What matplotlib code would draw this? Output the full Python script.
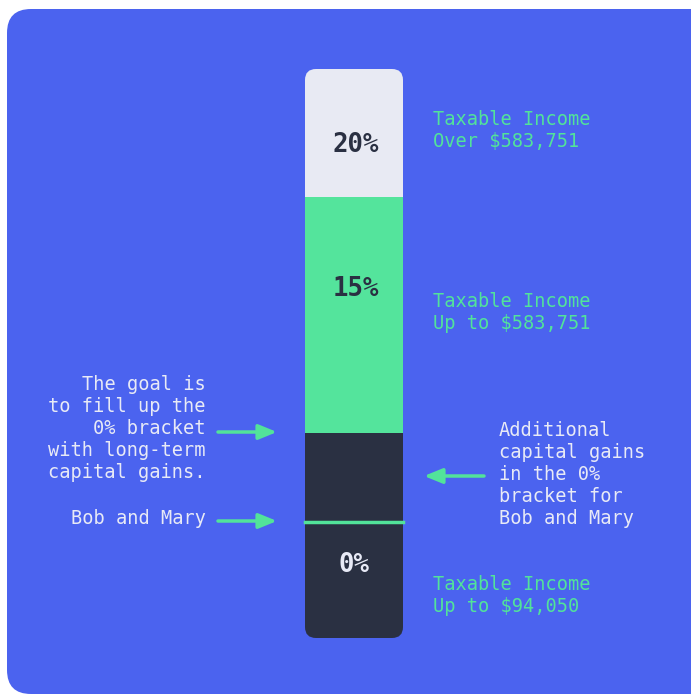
import matplotlib.pyplot as plt
from matplotlib.patches import FancyBboxPatch

# bracket segments, bottom to top (heights in drawing units)
rates = ["0%", "15%", "20%"]
seg_heights = [205, 236, 128]
seg_colors = ["#2A3042", "#54E49C", "#E8EAF3"]
bob_mary_level = 116  # where Bob and Mary sit inside the 0% bracket

bracket_labels = ["Taxable Income\nUp to $94,050",
                  "Taxable Income\nUp to $583,751",
                  "Taxable Income\nOver $583,751"]

BLUE = "#4B63EF"
GREEN = "#52E39A"
WHITE = "#E8EAF6"
FONT = "DejaVu Sans Mono"

fig = plt.figure(figsize=(6.91, 6.94), dpi=100)
fig.patch.set_facecolor("white")
ax = fig.add_axes([0, 0, 1, 1])
ax.set_xlim(0, 691)
ax.set_ylim(0, 694)
ax.axis("off")

# blue panel
panel = FancyBboxPatch((7, 0), 710, 685, boxstyle="round,pad=0,rounding_size=24",
                       fc=BLUE, ec="none", zorder=0)
ax.add_patch(panel)

# stacked bar
x0, w, base = 354, 98, 56
bottoms = [base + sum(seg_heights[:i]) for i in range(len(seg_heights))]
bars = ax.bar([x0] * 3, seg_heights, bottom=bottoms, width=w,
              color=seg_colors, edgecolor="none", zorder=2)
clip = FancyBboxPatch((x0 - w / 2, base), w, sum(seg_heights),
                      boxstyle="round,pad=0,rounding_size=11",
                      fc="none", ec="none", transform=ax.transData)
ax.add_patch(clip)
for b in bars:
    b.set_clip_path(clip)

# Bob and Mary line
ax.plot([x0 - w / 2, x0 + w / 2], [base + bob_mary_level] * 2, color=GREEN, lw=2.5, zorder=3)

# rate labels
pct = dict(ha="center", va="center", fontsize=18.5, family=FONT, fontweight="bold", zorder=4)
ax.text(x0 + 2, 694 - 145, rates[2], color="#2A3042", **pct)
ax.text(x0 + 2, 694 - 289, rates[1], color="#2A3042", **pct)
ax.text(x0, 694 - 565, rates[0], color=WHITE, **pct)

# bracket descriptions
for lab, yc in zip(bracket_labels, [595, 312, 130]):
    ax.text(433, 694 - yc, lab, ha="left", va="center", fontsize=13.4,
            family=FONT, color=GREEN, linespacing=1.2)

# left notes
ax.text(206, 694 - 428, "The goal is\nto fill up the\n0% bracket\nwith long-term\ncapital gains.",
        ha="right", va="center", fontsize=13.4, family=FONT, color=WHITE, linespacing=1.2)
ax.text(206, 694 - 518, "Bob and Mary", ha="right", va="center", fontsize=13.4,
        family=FONT, color=WHITE)

# right note
ax.text(499, 694 - 474, "Additional\ncapital gains\nin the 0%\nbracket for\nBob and Mary",
        ha="left", va="center", fontsize=13.4, family=FONT, color=WHITE, linespacing=1.2)

arrow = dict(arrowstyle="-|>,head_length=1.1,head_width=0.45", color=GREEN, lw=2.5,
             shrinkA=0, shrinkB=0)
ax.annotate("", xy=(277, 694 - 432), xytext=(218, 694 - 432), arrowprops=arrow)
ax.annotate("", xy=(277, 694 - 521), xytext=(218, 694 - 521), arrowprops=arrow)
ax.annotate("", xy=(424, 694 - 476), xytext=(484, 694 - 476), arrowprops=arrow)

fig.savefig("out.png", dpi=100, facecolor=fig.get_facecolor())
